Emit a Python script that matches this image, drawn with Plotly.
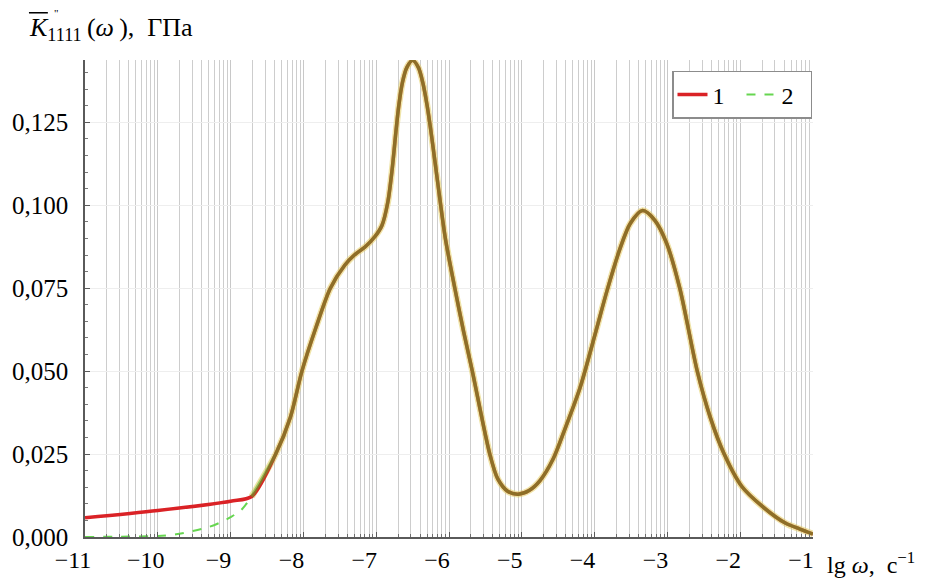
import math
import plotly.graph_objects as go

# lg(omega) grid and loss-modulus values, GPa
x_low1 = [-11.0, -10.0, -9.0, -8.71]
y_low1 = [0.0058, 0.0080, 0.0108, 0.0122]

x_low2 = [-11.0, -10.5, -10.0, -9.75, -9.52, -9.3, -9.15, -9.0, -8.87, -8.79, -8.71]
y_low2 = [0.0, 0.0001, 0.0003, 0.0008, 0.0018, 0.0030, 0.0043, 0.0060, 0.0078, 0.0098, 0.0122]

x_common = [-8.71, -8.38, -8.18, -8.02, -7.83, -7.63, -7.43, -7.30, -7.15, -7.02, -6.92,
            -6.84, -6.78, -6.73, -6.69, -6.64, -6.58, -6.50, -6.42, -6.36, -6.30,
            -6.24, -6.15, -6.05, -5.92, -5.80, -5.68, -5.44, -5.33, -5.19, -5.05,
            -4.90, -4.75, -4.57, -4.40, -4.20, -3.98, -3.83, -3.65, -3.51, -3.34,
            -3.17, -3.01, -2.83, -2.59, -2.41, -2.22, -1.98, -1.70, -1.38, -1.18, -1.0]
y_common = [0.0122, 0.0250, 0.0360, 0.0500, 0.0630, 0.0750, 0.0820, 0.0850, 0.0875, 0.0905, 0.0940,
            0.1010, 0.1110, 0.1220, 0.1300, 0.1370, 0.1415, 0.1437, 0.1415, 0.1370, 0.1300,
            0.1210, 0.1060, 0.0900, 0.0750, 0.0620, 0.0500, 0.0250, 0.0175, 0.0137, 0.0129,
            0.0140, 0.0170, 0.0235, 0.0330, 0.0450, 0.0622, 0.0742, 0.0870, 0.0945, 0.0984,
            0.0954, 0.0885, 0.0750, 0.0500, 0.0360, 0.0250, 0.0153, 0.0093, 0.0042, 0.0024, 0.0009]

x_ticks = list(range(-11, 0))
x_ticktext = ["\u2212" + str(abs(v)) for v in x_ticks]
y_ticks = [0.0, 0.025, 0.05, 0.075, 0.1, 0.125]
y_ticktext = ["0,000", "0,025", "0,050", "0,075", "0,100", "0,125"]

# decade-style vertical grid inside each unit of lg(omega)
grid_x = [n + math.log10(k) for n in range(-11, -1) for k in range(1, 10)]
grid_x = [g for g in grid_x if -11 < g < -1]

RED = "rgb(218,34,38)"
GREEN = "rgb(102,214,80)"
OLIVE_GREEN = "rgb(80,175,40)"
SERIF = "Liberation Serif"
SPLINE = dict(shape="spline", smoothing=0.8)

fig = go.Figure()

# soft yellowish halo around the coinciding part of both curves
fig.add_trace(go.Scatter(
    x=x_common, y=y_common, mode="lines", showlegend=False, hoverinfo="skip",
    line=dict(color="rgba(226,206,96,0.55)", width=6.5, **SPLINE),
))
# series 1: solid red
fig.add_trace(go.Scatter(
    x=x_low1 + x_common[1:], y=y_low1 + y_common[1:],
    mode="lines", name="1", line=dict(color=RED, width=3.5, **SPLINE),
    legendgroup="1",
))
# series 2: dashed green where it departs from series 1
fig.add_trace(go.Scatter(
    x=x_low2, y=y_low2, mode="lines", name="2",
    line=dict(color=GREEN, width=2, dash="dash", **SPLINE),
    legendgroup="2",
))
# series 2 where it coincides with series 1
fig.add_trace(go.Scatter(
    x=x_common, y=y_common, mode="lines", name="2", showlegend=False,
    line=dict(color=OLIVE_GREEN, width=3.5, **SPLINE),
    opacity=0.55, legendgroup="2",
))

fig.update_xaxes(
    range=[-11, -1], tickmode="array", tickvals=x_ticks, ticktext=x_ticktext,
    showgrid=True, gridcolor="rgb(200,200,200)", gridwidth=1,
    showline=True, linecolor="rgb(90,90,90)", linewidth=1.5,
    ticks="inside", ticklen=5, tickcolor="rgb(90,90,90)",
    minor=dict(tickmode="array", tickvals=grid_x, showgrid=True,
               gridcolor="rgb(205,205,205)", gridwidth=1,
               ticks="inside", ticklen=3, tickcolor="rgb(110,110,110)"),
    tickfont=dict(family=SERIF, size=24, color="black"),
    ticklabelshift=-12, zeroline=False,
)
fig.update_yaxes(
    range=[0, 0.1438], tickmode="array", tickvals=y_ticks, ticktext=y_ticktext,
    showgrid=True, gridcolor="rgb(238,238,238)", gridwidth=1,
    showline=True, linecolor="rgb(90,90,90)", linewidth=1.5,
    ticks="inside", ticklen=5, tickcolor="rgb(90,90,90)",
    minor=dict(dtick=0.005, tick0=0, ticks="inside", ticklen=3,
               tickcolor="rgb(120,120,120)", showgrid=False),
    tickfont=dict(family=SERIF, size=25, color="black"),
    ticklabelstandoff=10, zeroline=False,
)

fig.update_layout(
    width=928, height=585,
    margin=dict(l=85, r=115, t=60, b=44),
    paper_bgcolor="white", plot_bgcolor="white",
    font=dict(family=SERIF, color="black"),
    legend=dict(
        orientation="h", x=0.807, y=0.977, xanchor="left", yanchor="top",
        bgcolor="white", bordercolor="rgb(140,140,140)", borderwidth=1.5,
        font=dict(family=SERIF, size=24, color="black"),
        itemwidth=30, entrywidth=24, tracegroupgap=0,
    ),
    annotations=[
        dict(text="<i>K</i><sub>1111</sub>\u2009(<i>ω</i>\u2009),  ГПа", xref="paper", yref="paper",
             x=-0.079, y=1.066, xanchor="left", yanchor="middle", showarrow=False,
             font=dict(family=SERIF, size=26, color="black")),
        dict(text="\"", xref="paper", yref="paper", x=-0.046, y=1.098,
             xanchor="left", yanchor="middle", showarrow=False,
             font=dict(family=SERIF, size=11, color="black")),
        dict(text="lg <i>ω</i>,  c<sup>−1</sup>", xref="paper", yref="paper",
             x=1.017, y=-0.055, xanchor="left", yanchor="middle", showarrow=False,
             font=dict(family=SERIF, size=24, color="black")),
    ],
    shapes=[
        dict(type="line", xref="paper", yref="paper", x0=-0.077, x1=-0.051,
             y0=1.099, y1=1.099, line=dict(color="black", width=1.5)),
    ],
)

fig.write_html("out.html")
